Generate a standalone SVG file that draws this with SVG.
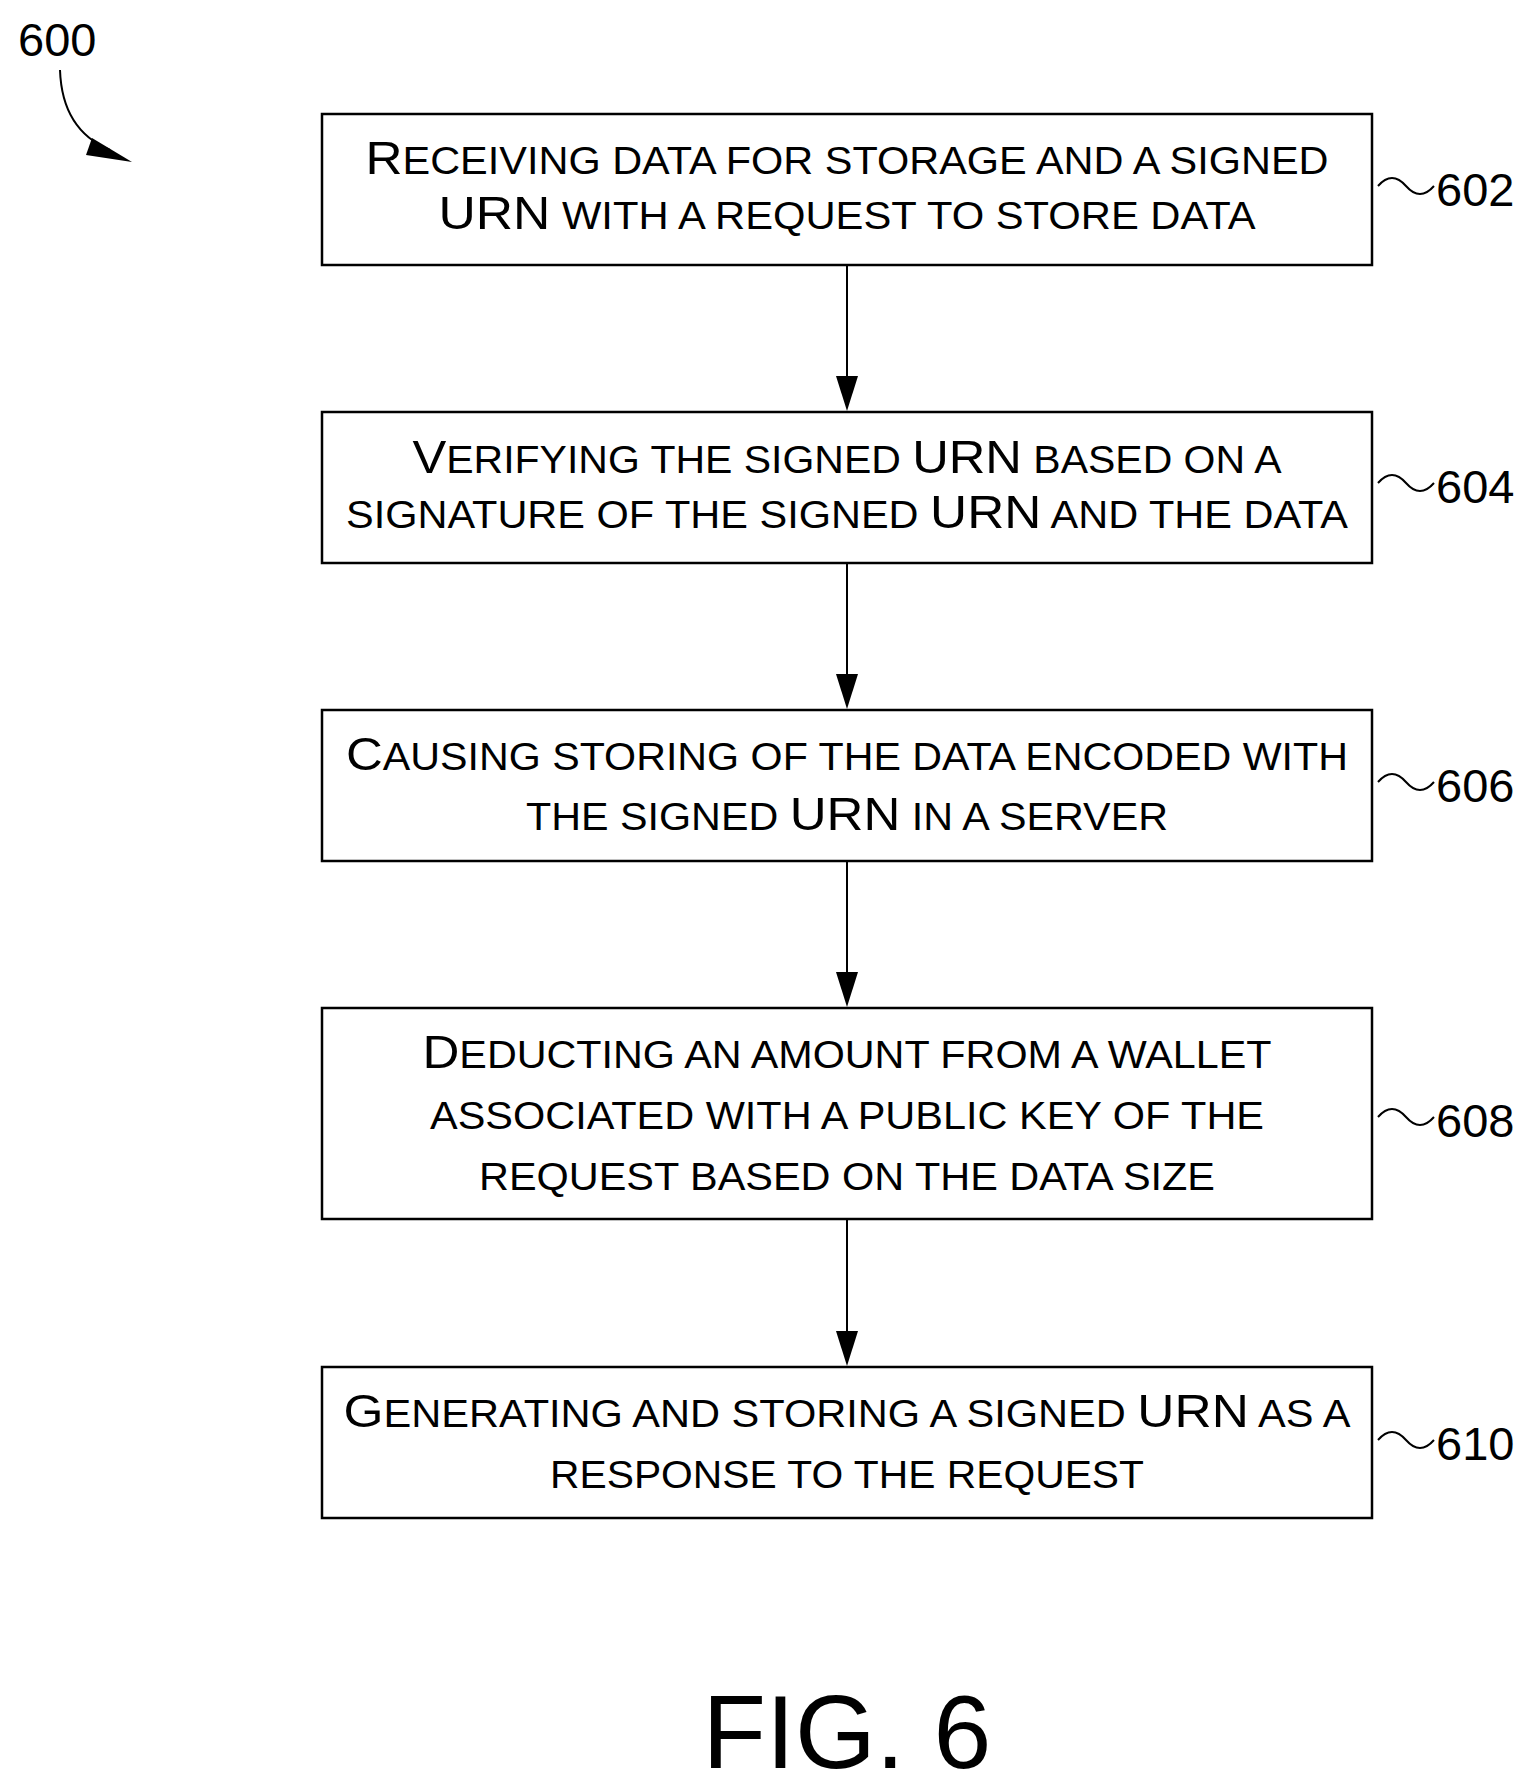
<svg xmlns="http://www.w3.org/2000/svg" width="1532" height="1790" viewBox="0 0 1532 1790">
<style>
.box{fill:#fff;stroke:#000;stroke-width:2.5}
.t{font-family:"Liberation Sans",Arial,sans-serif;font-size:38px;text-anchor:middle;fill:#000}
.b{font-size:47px}
.r{font-family:"Liberation Sans",Arial,sans-serif;font-size:47px;fill:#000}
.c{fill:none;stroke:#000;stroke-width:2}
.w{fill:none;stroke:#000;stroke-width:2}
</style>
<rect width="1532" height="1790" fill="#fff"/>
<text class="r" x="18" y="56">600</text>
<path d="M60,70 Q62,130 110,150" class="c"/>
<path d="M92,138 L132,162 L86,155 Z" fill="#000"/>
<g id="n602"><rect class="box" x="322" y="114" width="1050" height="151"/>
<text class="t" x="847" y="174" textLength="963" lengthAdjust="spacingAndGlyphs"><tspan class="b">R</tspan>ECEIVING DATA FOR STORAGE AND A SIGNED</text>
<text class="t" x="847" y="229" textLength="817" lengthAdjust="spacingAndGlyphs"><tspan class="b">URN</tspan> WITH A REQUEST TO STORE DATA</text>
<path class="w" d="M1378,186 q14,-16 28,0 t28,0"/>
<text class="r" x="1436" y="206">602</text></g>
<g id="n604"><rect class="box" x="322" y="412" width="1050" height="151"/>
<text class="t" x="847" y="473" textLength="869" lengthAdjust="spacingAndGlyphs"><tspan class="b">V</tspan>ERIFYING THE SIGNED <tspan class="b">URN</tspan> BASED ON A</text>
<text class="t" x="847" y="528" textLength="1002" lengthAdjust="spacingAndGlyphs">SIGNATURE OF THE SIGNED <tspan class="b">URN</tspan> AND THE DATA</text>
<path class="w" d="M1378,483 q14,-16 28,0 t28,0"/>
<text class="r" x="1436" y="503">604</text></g>
<g id="n606"><rect class="box" x="322" y="710" width="1050" height="151"/>
<text class="t" x="847" y="770" textLength="1002" lengthAdjust="spacingAndGlyphs"><tspan class="b">C</tspan>AUSING STORING OF THE DATA ENCODED WITH</text>
<text class="t" x="847" y="830" textLength="642" lengthAdjust="spacingAndGlyphs">THE SIGNED <tspan class="b">URN</tspan> IN A SERVER</text>
<path class="w" d="M1378,782 q14,-16 28,0 t28,0"/>
<text class="r" x="1436" y="802">606</text></g>
<g id="n608"><rect class="box" x="322" y="1008" width="1050" height="211"/>
<text class="t" x="847" y="1068" textLength="849" lengthAdjust="spacingAndGlyphs"><tspan class="b">D</tspan>EDUCTING AN AMOUNT FROM A WALLET</text>
<text class="t" x="847" y="1129" textLength="834" lengthAdjust="spacingAndGlyphs">ASSOCIATED WITH A PUBLIC KEY OF THE</text>
<text class="t" x="847" y="1190" textLength="736" lengthAdjust="spacingAndGlyphs">REQUEST BASED ON THE DATA SIZE</text>
<path class="w" d="M1378,1117 q14,-16 28,0 t28,0"/>
<text class="r" x="1436" y="1137">608</text></g>
<g id="n610"><rect class="box" x="322" y="1367" width="1050" height="151"/>
<text class="t" x="847" y="1427" textLength="1007" lengthAdjust="spacingAndGlyphs"><tspan class="b">G</tspan>ENERATING AND STORING A SIGNED <tspan class="b">URN</tspan> AS A</text>
<text class="t" x="847" y="1488" textLength="594" lengthAdjust="spacingAndGlyphs">RESPONSE TO THE REQUEST</text>
<path class="w" d="M1378,1440 q14,-16 28,0 t28,0"/>
<text class="r" x="1436" y="1460">610</text></g>
<g id="connectors">
<path class="c" d="M847,265 V380"/><path d="M836,376 L858,376 L847,411 Z"/>
<path class="c" d="M847,563 V678"/><path d="M836,674 L858,674 L847,709 Z"/>
<path class="c" d="M847,861 V976"/><path d="M836,972 L858,972 L847,1007 Z"/>
<path class="c" d="M847,1219 V1335"/><path d="M836,1331 L858,1331 L847,1366 Z"/>
</g>
<text class="r" x="847" y="1768" text-anchor="middle" style="font-size:104px">FIG. 6</text>
</svg>
